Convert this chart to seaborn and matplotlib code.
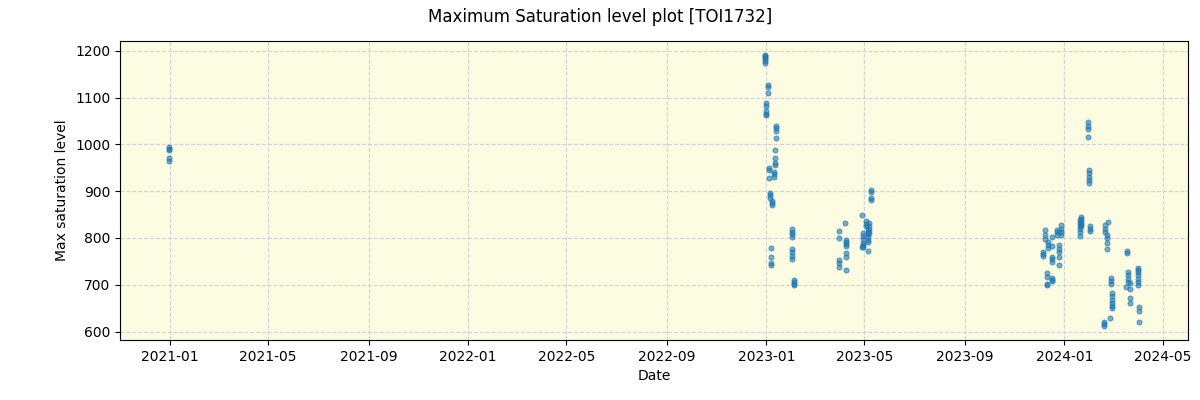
import matplotlib
matplotlib.use("Agg")
import matplotlib.pyplot as plt
import matplotlib.dates as mdates
import seaborn as sns
import pandas as pd

# Observation dates and max saturation levels, grouped by observing season
dates_2021 = ["2020-12-30"] * 4 + ["2020-12-31"]
levels_2021 = [995, 991, 970, 965, 988]

dates_2023a = (["2022-12-31"] * 6 + ["2023-01-03"] * 3 + ["2023-01-01"] * 5 +
               ["2023-01-13"] * 4 + ["2023-01-12"] * 4 + ["2023-01-04"] * 3 +
               ["2023-01-10"] * 3 + ["2023-01-05"] * 3 + ["2023-01-08"] * 3 +
               ["2023-01-07"] * 4 + ["2023-02-02"] * 8 + ["2023-02-04"] * 4)
levels_2023a = [1192, 1189, 1186, 1182, 1178, 1173,
                1127, 1122, 1109,
                1088, 1082, 1072, 1066, 1062,
                1040, 1035, 1028, 1013,
                987, 970, 960, 955,
                950, 946, 928,
                942, 936, 930,
                896, 892, 886,
                878, 874, 870,
                778, 760, 746, 743,
                819, 813, 808, 802, 776, 770, 762, 755,
                710, 706, 702, 700]

dates_2023b = (["2023-03-31"] * 5 + ["2023-04-07"] + ["2023-04-09"] * 7 +
               ["2023-04-28"] * 2 + ["2023-04-30"] * 6 + ["2023-05-03"] * 3 +
               ["2023-05-05"] * 5 + ["2023-05-06"] * 2 + ["2023-05-07"] * 4 +
               ["2023-05-09"] * 4)
levels_2023b = [815, 800, 753, 746, 738,
                832,
                796, 792, 788, 783, 768, 760, 732,
                849, 781,
                810, 805, 798, 790, 785, 781,
                836, 830, 826,
                820, 812, 808, 802, 795,
                772, 791,
                832, 825, 818, 811,
                902, 898, 886, 882]

dates_2024 = (["2023-12-06"] * 3 + ["2023-12-08"] * 3 + ["2023-12-11"] * 4 +
              ["2023-12-12"] * 3 + ["2023-12-17"] * 8 + ["2023-12-23"] * 3 +
              ["2023-12-25"] * 5 + ["2023-12-28"] * 4 + ["2024-01-20"] * 6 +
              ["2024-01-22"] * 5 + ["2024-01-30"] * 4 + ["2024-01-31"] * 5 +
              ["2024-02-02"] * 3 + ["2024-02-19"] * 3 + ["2024-02-20"] * 3 +
              ["2024-02-22"] * 4 + ["2024-02-24"] + ["2024-02-27"] * 3 +
              ["2024-02-28"] * 6 + ["2024-02-26"] + ["2024-03-16"] +
              ["2024-03-18"] * 2 + ["2024-03-19"] * 4 + ["2024-03-21"] * 4 +
              ["2024-03-31"] * 7 + ["2024-04-02"] * 3)
levels_2024 = [770, 766, 762,
               817, 806, 797,
               726, 717, 702, 700,
               791, 785, 778,
               803, 783, 760, 755, 749, 715, 710, 707,
               817, 812, 806,
               785, 776, 770, 760, 743,
               828, 820, 812, 806,
               838, 832, 826, 820, 813, 805,
               845, 840, 835, 830, 825,
               1047, 1040, 1032, 1015,
               946, 938, 930, 923, 917,
               825, 820, 815,
               621, 616, 611,
               828, 820, 813,
               806, 800, 789, 776,
               834,
               715, 708, 702,
               683, 675, 667, 660, 655, 650,
               630,
               696,
               773, 768,
               728, 720, 712, 705,
               704, 690, 672, 660,
               736, 731, 727, 720, 712, 705, 700,
               653, 643, 621]

dates = dates_2021 + dates_2023a + dates_2023b + dates_2024
levels = levels_2021 + levels_2023a + levels_2023b + levels_2024

df = pd.DataFrame({"Date": pd.to_datetime(dates), "Max saturation level": levels})

fig, ax = plt.subplots(figsize=(12, 4), dpi=100)
fig.subplots_adjust(left=0.1, right=0.99, top=0.8975, bottom=0.15)

ax.set_facecolor("#fcfce2")
sns.scatterplot(data=df, x="Date", y="Max saturation level", ax=ax,
                color="tab:blue", edgecolor="tab:blue", linewidth=0.8,
                s=13, alpha=0.6, zorder=3)

ax.grid(True, linestyle="--", color="#d3d3d3", linewidth=0.8, zorder=0)
ax.set_axisbelow(True)
ax.xaxis.set_major_locator(mdates.MonthLocator(bymonth=[1, 5, 9]))
ax.xaxis.set_major_formatter(mdates.DateFormatter("%Y-%m"))
ax.set_xlabel("Date")
ax.set_ylabel("Max saturation level")
fig.suptitle("Maximum Saturation level plot [TOI1732]", fontsize=12)

fig.savefig("out.png", dpi=100)
